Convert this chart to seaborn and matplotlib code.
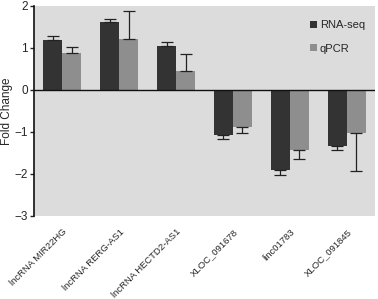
import numpy as np
import pandas as pd
import matplotlib
matplotlib.use('Agg')
import matplotlib.pyplot as plt
import seaborn as sns

genes = ["lncRNA MIR22HG", "lncRNA RERG-AS1", "lncRNA HECTD2-AS1",
         "XLOC_091678", "linc01783", "XLOC_091845"]
rnaseq = [1.19, 1.62, 1.05, -1.08, -1.91, -1.34]
rnaseq_err = [0.09, 0.07, 0.09, 0.09, 0.11, 0.10]
qpcr = [0.88, 1.21, 0.45, -0.89, -1.44, -1.02]
qpcr_err = [0.15, 0.68, 0.40, 0.14, 0.20, 0.91]

df = pd.DataFrame({
    "Gene": genes * 2,
    "Method": ["RNA-seq"] * len(genes) + ["qPCR"] * len(genes),
    "Fold Change": rnaseq + qpcr,
})
errs = rnaseq_err + qpcr_err

sns.set_theme(style="white")
plt.rcParams['font.family'] = ['Liberation Sans', 'DejaVu Sans']

fig = plt.figure(figsize=(3.78, 2.99), dpi=100)
ax = fig.add_axes([34 / 378, 1 - 216 / 299, 341 / 378, 210 / 299])
ax.set_facecolor("#dcdcdc")

sns.barplot(data=df, x="Gene", y="Fold Change", hue="Method",
            palette=["#333333", "#8e8e8e"], width=0.67, errorbar=None,
            saturation=1, linewidth=0, ax=ax)

# one-sided error bars, outward from zero
for patch, val, err in zip(ax.patches, df["Fold Change"], errs):
    xc = patch.get_x() + patch.get_width() / 2
    yerr = [[0], [err]] if val >= 0 else [[err], [0]]
    ax.errorbar(xc, val, yerr=yerr, fmt="none", ecolor="#222222",
                elinewidth=0.9, capsize=4.5, capthick=0.9)

ax.axhline(0, color="#111111", lw=1.0)
ax.set_ylim(-3, 2)
ax.set_xlim(-0.5, 5.5)
ax.set_yticks([-3, -2, -1, 0, 1, 2])
ax.tick_params(axis="y", direction="out", length=3, width=1, left=True,
               labelsize=8.5, pad=1.5)
ax.tick_params(axis="x", bottom=False, labelsize=6.8, pad=2)
plt.setp(ax.get_xticklabels(), rotation=45, ha="right", rotation_mode="anchor")
ax.set_xlabel("")
ax.set_ylabel("Fold Change", fontsize=8.5, labelpad=1)
for side in ["top", "right", "bottom"]:
    ax.spines[side].set_visible(False)
ax.spines["left"].set_color("#111111")
ax.spines["left"].set_linewidth(1.2)

leg = ax.legend(loc="upper right", frameon=False, fontsize=8,
                handlelength=0.6, handleheight=0.6, handletextpad=0.3,
                labelspacing=1.2, bbox_to_anchor=(1.0, 0.98))

fig.savefig("out.png", dpi=100)
